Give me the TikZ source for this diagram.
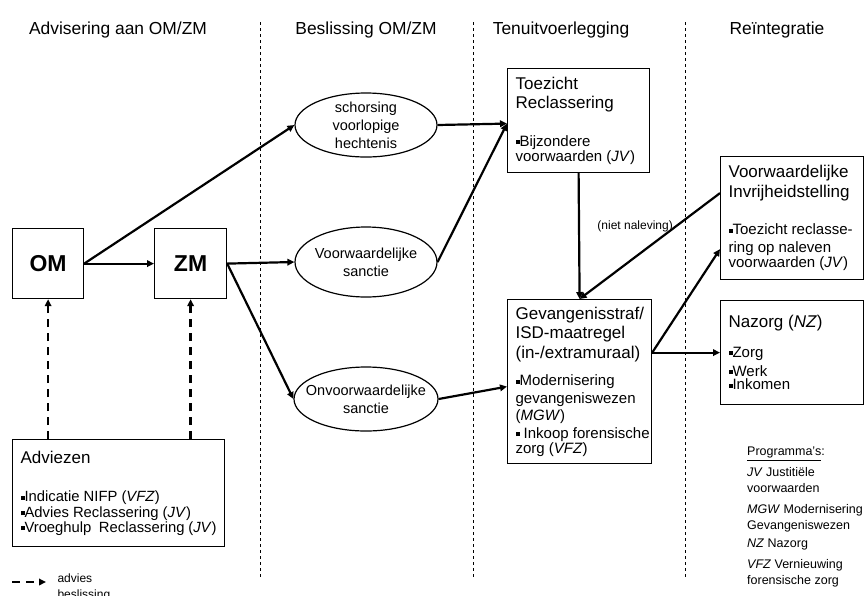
\documentclass[tikz,border=0pt]{standalone}
\usepackage{fontspec}
\setmainfont{Liberation Sans}
\usetikzlibrary{arrows.meta,shapes.geometric,positioning}
\newcommand{\blt}{\rule[0.25ex]{0.5ex}{0.5ex}}
\newcommand{\ttl}{\fontsize{17}{19.5}\selectfont}
\newcommand{\itm}{\fontsize{15}{17.5}\selectfont}
\begin{document}
\begin{tikzpicture}[x=1pt, y=-1pt,
    box/.style={draw, line width=1.2pt, rectangle, anchor=north west, inner xsep=8pt, inner ysep=4pt, align=flush left},
    oval/.style={draw, line width=1.2pt, ellipse, align=center, inner xsep=-22pt, inner ysep=-4pt, font=\fontsize{14.5}{18}\selectfont},
    head/.style={font=\fontsize{17.4}{20}\selectfont},
    prog/.style={anchor=north west, inner sep=0pt, align=left, font=\fontsize{12.5}{16}\selectfont},
    klein/.style={font=\fontsize{12}{14}\selectfont},
    pijl/.style={line width=2.2pt, -{Triangle[length=7pt,width=6.5pt]}},
    advies/.style={line width=2.4pt, dash pattern=on 8pt off 6pt, -{Triangle[length=7pt,width=6.5pt]}},
    scheiding/.style={dashed, line width=0.8pt}]
    \useasboundingbox (0,0) rectangle (864,595);
    % kolommen
    \node[head] (h1) at (118,30) {Advisering aan OM/ZM};
    \node[head] (h2) at (366,30) {Beslissing OM/ZM};
    \node[head] (h3) at (561,30) {Tenuitvoerlegging};
    \node[head] (h4) at (777,30) {Reïntegratie};
    \draw[scheiding] (260,22) -- (260,578);
    \draw[scheiding] (473,22) -- (473,578);
    \draw[scheiding] (685,22) -- (685,578);
    % advisering
    \node[box, align=center, minimum width=71pt, minimum height=70pt] (om) at (12,228) {\fontsize{23}{26}\selectfont\bfseries OM};
    \node[box, align=center, minimum width=72pt, minimum height=70pt] (zm) at (154,228) {\fontsize{23}{26}\selectfont\bfseries ZM};
    \node[box, text width=196pt, minimum height=107pt] (adv) at (12,439) {{\ttl Adviezen\par}\vspace{23pt}\fontsize{14.8}{15.5}\selectfont
        \blt Indicatie NIFP (\textit{VFZ})\\\blt Advies Reclassering (\textit{JV})\\\blt Vroeghulp\ \ Reclassering (\textit{JV})};
    % beslissing
    \node[oval, minimum width=142pt, minimum height=64pt] (schorsing) at (366,125) {schorsing\\voorlopige\\hechtenis};
    \node[oval, minimum width=142pt, minimum height=70pt] (vw) at (366,262) {Voorwaardelijke\\sanctie};
    \node[oval, minimum width=144pt, minimum height=64pt] (onvw) at (366,399) {Onvoorwaardelijke\\sanctie};
    % tenuitvoerlegging
    \node[box, text width=126pt, minimum height=104pt] (tz) at (507,68) {{\ttl Toezicht\\Reclassering\par}\vspace{20pt}\itm
        \blt Bijzondere\\voorwaarden (\textit{JV})};
    \node[box, text width=128pt, minimum height=164pt] (gev) at (507,299) {{\ttl \mbox{Gevangenisstraf/}\\ISD-maatregel\\\mbox{(in-/extramuraal)}\par}\vspace{10pt}\itm
        \blt Modernisering\\gevangeniswezen\\(\textit{MGW})\\\mbox{\blt\ Inkoop forensische}\\zorg (\textit{VFZ})};
    % reintegratie
    \node[box, text width=127pt, minimum height=123pt] (vi) at (720,156) {{\ttl Voorwaardelijke\\Invrijheidstelling\par}\vspace{20pt}\itm
        \blt Toezicht reclasse-\\ring op naleven\\voorwaarden (\textit{JV})};
    \node[box, text width=127pt, minimum height=104pt] (nz) at (720,300) {{\ttl Nazorg (\textit{NZ})\par}\vspace{12pt}\itm
        \blt Zorg\\[1.5pt]\blt Werk\\[1.5pt]\blt Inkomen};
    % programma's
    \node[prog] (prog) at (747,447) {\underline{Programma's}:};
    \node[prog] (progjv) at (747,467) {\textit{JV} Justitiële\\voorwaarden};
    \node[prog] (progmgw) at (747,504) {\textit{MGW} Modernisering\\Gevangeniswezen};
    \node[prog] (prognz) at (747,539) {\textit{NZ} Nazorg};
    \node[prog] (progvfz) at (747,559) {\textit{VFZ} Vernieuwing\\forensische zorg};
    % legenda
    \coordinate (lgbegin) at (12,582);
    \coordinate (lgeind) at (46,582);
    \draw[advies] (lgbegin) -- (lgeind);
    \node[klein, anchor=west] (lgadvies) at (54,578) {advies};
    \node[klein, anchor=west] (lgbesl) at (54,595) {beslissing};
    % pijlen
    \draw[advies] (adv.north -| om.south) -- (om.south);
    \draw[advies] (adv.north -| zm.south) -- (zm.south);
    \draw[pijl] (om.east) -- (zm.west);
    \draw[pijl] (om.east) -- (schorsing.west);
    \draw[pijl] (zm.east) -- (vw.west);
    \draw[pijl] (zm.east) -- (onvw.west);
    \draw[pijl] (schorsing.east) -- ([yshift=-3pt]tz.west);
    \draw[pijl] (vw.east) -- ([yshift=-3pt]tz.west);
    \draw[pijl] (onvw.east) -- ([yshift=-5pt]gev.west);
    \draw[pijl] (tz.south) -- (gev.north) node[klein, pos=0.42, right=14pt] (nietnal) {(niet naleving)};
    \draw[pijl] ([yshift=25pt]vi.west) -- (gev.north);
    \draw[pijl] (gev.east |- nz.west) -- (nz.west);
    \draw[pijl] (gev.east |- nz.west) -- ([yshift=-31pt]vi.west);
\end{tikzpicture}
\end{document}
